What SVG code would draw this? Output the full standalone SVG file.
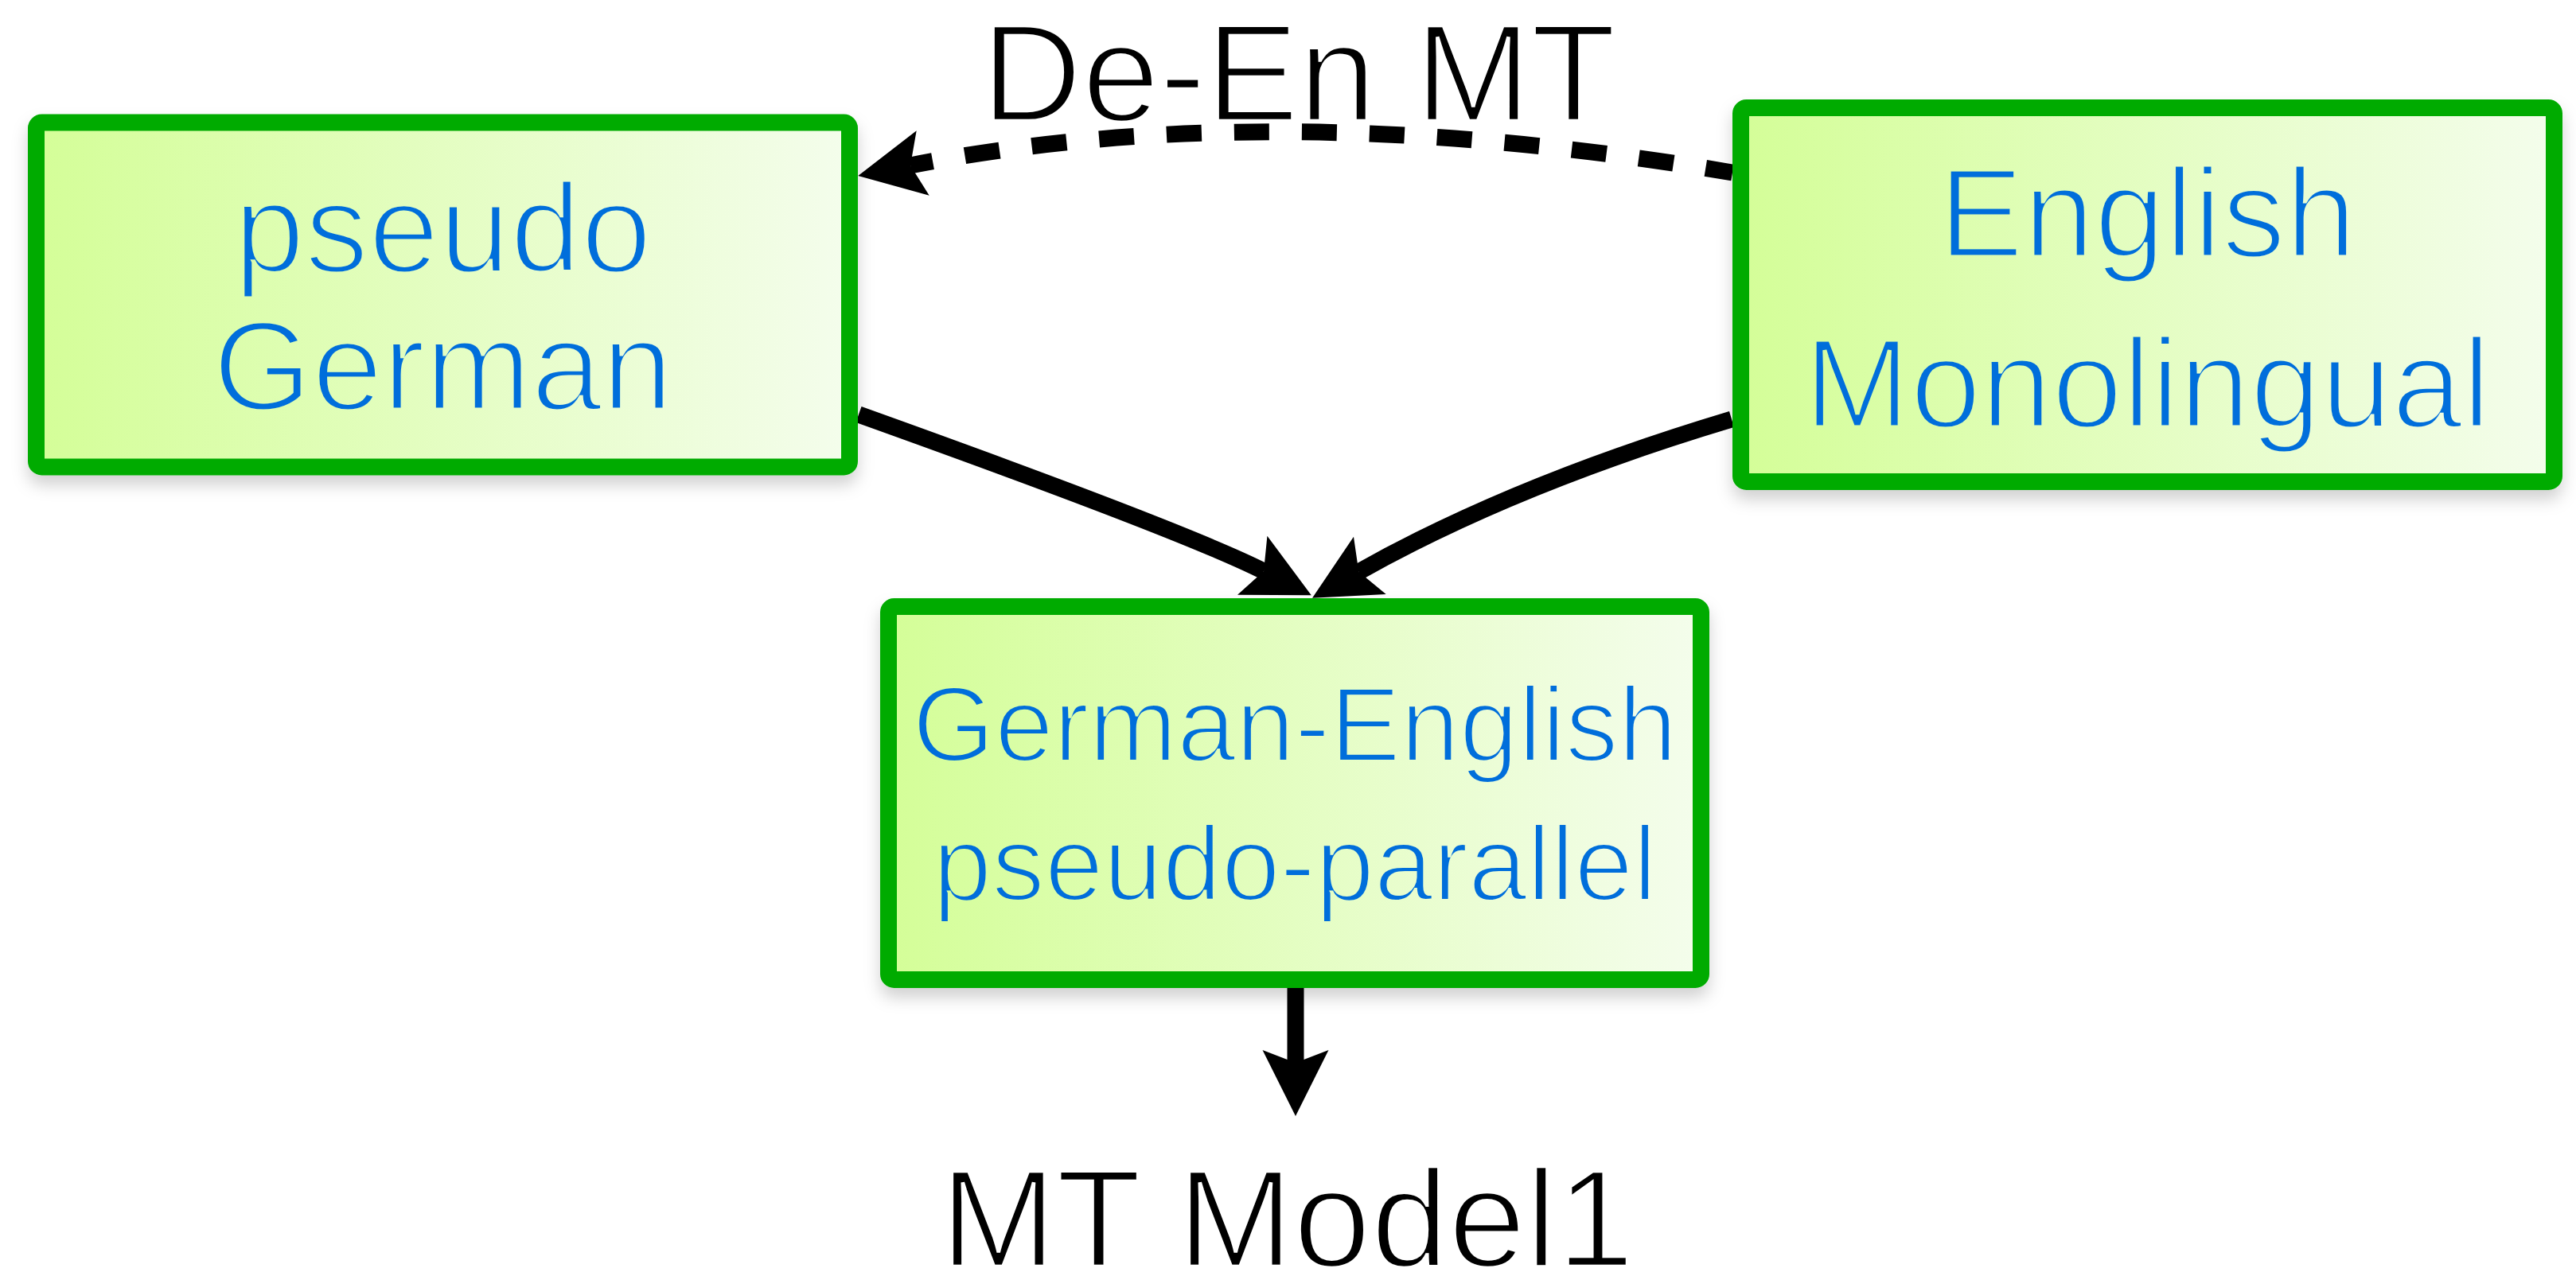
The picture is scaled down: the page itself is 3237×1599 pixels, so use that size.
<svg xmlns="http://www.w3.org/2000/svg" width="3237" height="1599" viewBox="0 0 3237 1599">
  <style>
    .box { stroke: #00AB00; stroke-width: 21; fill: url(#boxFill); filter: url(#shadow); }
    .label { font-family: "Liberation Sans", Arial, sans-serif; fill: #006EDB; text-anchor: middle; paint-order: normal; }
    .big { font-size: 160px; stroke-width: 5; }
    .small { font-size: 133px; stroke-width: 4; }
    .caption { font-family: "Liberation Sans", Arial, sans-serif; fill: #000; text-anchor: middle; font-size: 175px; stroke: #fff; stroke-width: 4.5; paint-order: normal; }
    .edge { fill: none; stroke: #000; stroke-width: 21; }
    .dashed { stroke-dasharray: 44 41; stroke-dashoffset: 10; }
  </style>
  <defs>
    <linearGradient id="boxFill" x1="0" y1="0" x2="1" y2="0">
      <stop offset="0" stop-color="#D4FE98"/>
      <stop offset="1" stop-color="#F4FDEC"/>
    </linearGradient>
    <!-- same ramp laid out in page units, used to trim the glyph outlines to a light weight -->
    <linearGradient id="trimGerman" href="#boxFill" gradientUnits="userSpaceOnUse" x1="45.5" y1="0" x2="1067.5" y2="0"/>
    <linearGradient id="trimEnglish" href="#boxFill" gradientUnits="userSpaceOnUse" x1="2187.5" y1="0" x2="3209.5" y2="0"/>
    <linearGradient id="trimParallel" href="#boxFill" gradientUnits="userSpaceOnUse" x1="1116.5" y1="0" x2="2137.5" y2="0"/>
    <filter id="shadow" x="-10%" y="-10%" width="120%" height="130%">
      <feDropShadow dx="0" dy="12" stdDeviation="10" flood-color="#000" flood-opacity="0.18"/>
    </filter>
    <marker id="arrow" markerUnits="userSpaceOnUse" orient="auto" refX="0" refY="0" markerWidth="1" markerHeight="1" overflow="visible">
      <path d="M67 0 L-16 -41.5 L0 0 L-16 41.5 Z" fill="#000"/>
    </marker>
  </defs>

  <rect width="3237" height="1599" fill="#fff"/>

  <!-- edge label (drawn under the dashed arc) -->
  <g id="label-de-en">
    <text class="caption" x="1632" y="152">De-En MT</text>
  </g>

  <!-- connectors -->
  <g id="connectors">
    <path id="edge-mt" class="edge dashed" d="M2177 217 Q1596 119 1144 208" marker-end="url(#arrow)"/>
    <path id="edge-german" class="edge" d="M1079 521 Q1489 668 1588 718" marker-end="url(#arrow)"/>
    <path id="edge-english" class="edge" d="M2176 527 Q1902.3 609.1 1707.4 718.8" marker-end="url(#arrow)"/>
    <path id="edge-model" class="edge" d="M1628 1242 L1628 1336" marker-end="url(#arrow)"/>
  </g>

  <!-- pseudo German -->
  <g id="pseudo-german">
    <rect class="box" x="45.5" y="154" width="1022" height="433" rx="7"/>
    <text class="label big" x="556.5" y="342" stroke="url(#trimGerman)">pseudo</text>
    <text class="label big" x="556.5" y="515" stroke="url(#trimGerman)">German</text>
  </g>

  <!-- English Monolingual -->
  <g id="english-monolingual">
    <rect class="box" x="2187.5" y="135.5" width="1022" height="470" rx="7"/>
    <text class="label big" x="2698.5" y="323" stroke="url(#trimEnglish)">English</text>
    <text class="label big" x="2698.5" y="537" stroke="url(#trimEnglish)">Monolingual</text>
  </g>

  <!-- German-English pseudo-parallel -->
  <g id="pseudo-parallel">
    <rect class="box" x="1116.5" y="762.5" width="1021" height="469" rx="7"/>
    <text class="label small" x="1627" y="957" stroke="url(#trimParallel)">German-English</text>
    <text class="label small" x="1627" y="1132" stroke="url(#trimParallel)">pseudo-parallel</text>
  </g>

  <!-- output -->
  <g id="mt-model1">
    <text class="caption" x="1617.5" y="1592">MT Model1</text>
  </g>
</svg>
